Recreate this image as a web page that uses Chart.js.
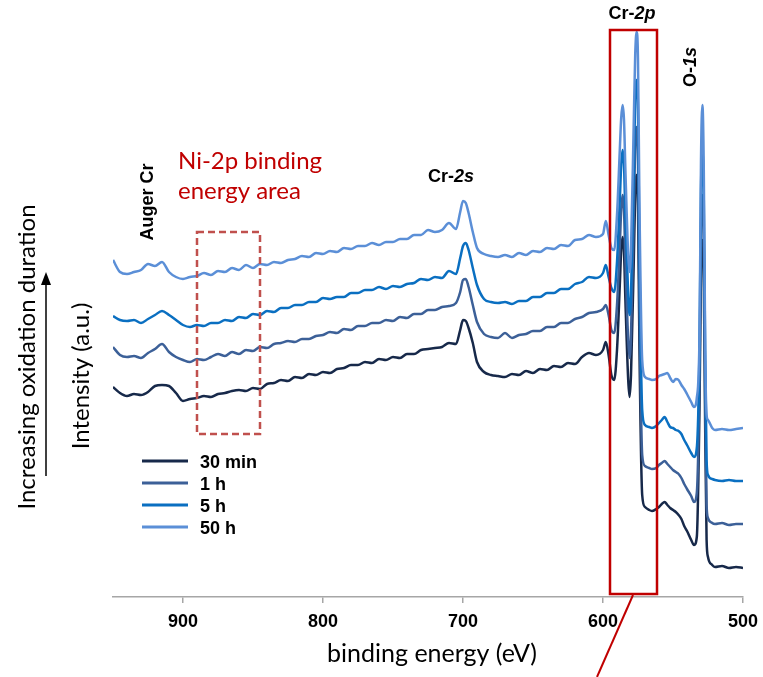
<!DOCTYPE html>
<html>
<head>
<meta charset="utf-8">
<script src="https://cdn.jsdelivr.net/npm/chart.js@4.4.1/dist/chart.umd.min.js"></script>
<style>
  html, body { margin: 0; padding: 0; background: #fff; }
  #wrap { width: 763px; height: 677px; }
</style>
</head>
<body>
<div id="wrap"><canvas id="xps"></canvas></div>
<script>
// binding energy (eV), shared by all spectra
const energy = [
  950, 945, 940, 935, 930, 925, 920, 915, 910, 905,
  900, 895, 890, 885, 880, 875, 870, 865, 860, 855,
  850, 845, 840, 835, 830, 825, 820, 815, 810, 805,
  800, 795, 790, 785, 780, 775, 770, 765, 760, 755,
  750, 745, 740, 735, 730, 725, 720, 715, 710, 705,
  702, 700, 698, 696, 693,
  690, 685, 680, 675, 670, 665, 660, 655, 650, 645, 640, 635, 630, 625, 620, 615, 610, 605, 600,
  598, 596, 594, 592, 590, 588, 587, 586, 585, 584,
  582, 581, 580, 578, 577, 576, 575, 574, 572, 570,
  567, 565, 562, 560, 558, 556, 554, 552, 550, 548,
  546, 544, 542, 540, 537, 535, 533, 531, 530, 529,
  528, 527, 526, 525, 522, 520, 515, 510, 505, 500
];

// intensity (a.u., stacked spectra)
const s30min = [
  210, 204, 201, 203, 202, 205, 211, 212, 211, 204,
  196, 198, 199, 201, 200, 203, 204, 206, 207, 206,
  209, 208, 213, 214, 217, 216, 220, 219, 223, 222,
  225, 224, 228, 229, 232, 232, 235, 234, 238, 237,
  240, 239, 243, 243, 247, 248, 249, 250, 254, 253,
  267, 277, 276, 269, 254,
  235, 225, 222, 221, 220, 223, 222, 226, 224, 228, 227, 231, 230, 234, 233, 240, 244, 242, 247,
  255, 242, 222, 217, 247, 312, 347, 360, 345, 297,
  217, 200, 222, 337, 402, 422, 392, 252, 102, 90,
  87, 86, 88, 90, 93, 95, 92, 89, 87, 85,
  82, 78, 71, 66, 57, 52, 60, 197, 327, 357,
  317, 167, 57, 40, 32, 30, 31, 29, 30, 29
];
const s1h = [
  250, 242, 240, 241, 239, 244, 248, 253, 245, 240,
  237, 235, 238, 237, 240, 243, 241, 245, 243, 247,
  246, 250, 249, 253, 254, 256, 255, 258, 258, 261,
  262, 265, 264, 268, 267, 271, 271, 274, 274, 277,
  276, 280, 279, 283, 283, 287, 287, 290, 291, 294,
  305, 317, 318, 310, 292,
  275, 263, 260, 259, 264, 259, 262, 263, 266, 266, 270, 270, 274, 274, 278, 280, 284, 285, 288,
  292, 282, 267, 264, 292, 352, 387, 402, 387, 337,
  257, 239, 262, 382, 452, 470, 437, 297, 142, 131,
  129, 128, 129, 132, 134, 136, 133, 130, 127, 125,
  123, 119, 113, 108, 101, 95, 104, 227, 367, 402,
  357, 197, 92, 79, 74, 73, 74, 72, 73, 73
];
const s5h = [
  281, 277, 276, 277, 274, 278, 282, 286, 282, 277,
  272, 270, 272, 271, 274, 274, 277, 276, 280, 279,
  283, 282, 286, 285, 289, 289, 292, 292, 295, 295,
  299, 298, 300, 300, 304, 304, 307, 307, 310, 308,
  311, 310, 313, 314, 318, 317, 320, 319, 326, 323,
  339, 351, 354, 347, 329,
  312, 298, 295, 294, 295, 293, 296, 296, 300, 300, 304, 304, 308, 308, 313, 315, 320, 319, 324,
  332, 320, 309, 305, 335, 397, 432, 447, 432, 382,
  302, 282, 302, 427, 497, 517, 487, 347, 187, 172,
  170, 169, 171, 174, 177, 180, 175, 170, 169, 167,
  166, 163, 157, 152, 144, 140, 149, 257, 407, 447,
  397, 237, 137, 122, 118, 117, 116, 117, 116, 116
];
const s50h = [
  337, 325, 323, 325, 327, 333, 331, 335, 325, 320,
  318, 320, 321, 324, 322, 326, 325, 329, 327, 332,
  329, 333, 332, 335, 334, 337, 338, 341, 340, 344,
  343, 346, 345, 349, 348, 351, 351, 354, 352, 355,
  355, 358, 358, 362, 362, 367, 365, 367, 374, 368,
  385, 396, 394, 384, 365,
  349, 343, 341, 340, 342, 340, 344, 342, 346, 345, 349, 348, 352, 351, 357, 358, 362, 360, 363,
  376, 362, 349, 347, 382, 447, 479, 492, 477, 427,
  342, 325, 347, 477, 542, 565, 537, 397, 237, 220,
  218, 217, 218, 221, 222, 223, 224, 219, 215, 218,
  217, 212, 208, 203, 195, 190, 199, 267, 437, 492,
  427, 247, 182, 177, 169, 167, 168, 167, 168, 169
];

const seriesLabels = ['30 min', '1 h', '5 h', '50 h'];
const seriesValues = [s30min, s1h, s5h, s50h];
const seriesColors = ['#17294a', '#3c6098', '#0a6fc1', '#5b8fd7'];
const energyTicks = [900, 800, 700, 600, 500];

const sansFont = 'Liberation Sans, Arial, sans-serif';
const calFont = 'Lato, sans-serif';

// mixed normal / italic label, e.g. "Cr-" + "2s"
function mixedText(ctx, plain, ital, x, y, size, align) {
  ctx.font = 'bold ' + size + 'px ' + sansFont;
  const w1 = ctx.measureText(plain).width;
  ctx.font = 'italic bold ' + size + 'px ' + sansFont;
  const w2 = ctx.measureText(ital).width;
  let x0 = x;
  if (align === 'center') x0 = x - (w1 + w2) / 2;
  ctx.textAlign = 'left';
  ctx.font = 'bold ' + size + 'px ' + sansFont;
  ctx.fillText(plain, x0, y);
  ctx.font = 'italic bold ' + size + 'px ' + sansFont;
  ctx.fillText(ital, x0 + w1, y);
}

const annotations = {
  id: 'annotations',
  afterDraw(chart) {
    const ctx = chart.ctx;
    ctx.save();
    ctx.fillStyle = '#000';
    ctx.textBaseline = 'middle';

    // left labels, rotated
    ctx.save();
    ctx.translate(27, 357);
    ctx.rotate(-Math.PI / 2);
    ctx.font = '24px ' + calFont;
    ctx.textAlign = 'center';
    ctx.fillText('Increasing oxidation duration', 0, 0);
    ctx.restore();

    ctx.save();
    ctx.translate(81, 376);
    ctx.rotate(-Math.PI / 2);
    ctx.font = '24px ' + calFont;
    ctx.textAlign = 'center';
    ctx.fillText('Intensity (a.u.)', 0, 0);
    ctx.restore();

    // arrow
    ctx.strokeStyle = '#000';
    ctx.lineWidth = 1.5;
    ctx.beginPath();
    ctx.moveTo(46, 476);
    ctx.lineTo(46, 282);
    ctx.stroke();
    ctx.beginPath();
    ctx.moveTo(46, 272);
    ctx.lineTo(41, 285);
    ctx.lineTo(51, 285);
    ctx.closePath();
    ctx.fill();

    // peak labels
    ctx.save();
    ctx.translate(148, 202);
    ctx.rotate(-Math.PI / 2);
    ctx.font = 'bold 18px ' + sansFont;
    ctx.textAlign = 'center';
    ctx.fillText('Auger Cr', 0, 0);
    ctx.restore();

    mixedText(ctx, 'Cr-', '2s', 451, 177, 18, 'center');
    mixedText(ctx, 'Cr-', '2p', 632, 14, 18, 'center');

    ctx.save();
    ctx.translate(691, 67);
    ctx.rotate(-Math.PI / 2);
    mixedText(ctx, 'O-', '1s', 0, 0, 18, 'center');
    ctx.restore();

    // Ni-2p area
    ctx.fillStyle = '#c00000';
    ctx.textAlign = 'left';
    ctx.font = '24px ' + calFont;
    ctx.fillText('Ni-2p binding', 178, 161);
    ctx.fillText('energy area', 178, 191);

    ctx.strokeStyle = '#c0504d';
    ctx.lineWidth = 2.5;
    ctx.setLineDash([7, 4]);
    ctx.strokeRect(197, 232, 63, 202);
    ctx.setLineDash([]);

    // Cr-2p box and pointer
    ctx.strokeStyle = '#c00000';
    ctx.lineWidth = 2.5;
    ctx.strokeRect(610, 30, 47, 564);
    ctx.lineWidth = 2;
    ctx.beginPath();
    ctx.moveTo(633, 595);
    ctx.lineTo(597, 677);
    ctx.stroke();

    // legend
    const legY = [461, 483, 505, 527];
    seriesLabels.forEach((lab, i) => {
      ctx.strokeStyle = seriesColors[i];
      ctx.lineWidth = 3;
      ctx.beginPath();
      ctx.moveTo(142, legY[i]);
      ctx.lineTo(188, legY[i]);
      ctx.stroke();
      ctx.fillStyle = '#000';
      ctx.font = 'bold 18px ' + sansFont;
      ctx.textAlign = 'left';
      ctx.fillText(lab, 200, legY[i] + 2);
    });

    // x-axis title
    ctx.fillStyle = '#000';
    ctx.font = '25px ' + calFont;
    ctx.textAlign = 'center';
    ctx.fillText('binding energy (eV)', 432, 654);
    ctx.restore();
  }
};

const ctx = document.getElementById('xps').getContext('2d');
new Chart(ctx, {
  type: 'line',
  data: {
    datasets: seriesLabels.map((lab, i) => ({
      label: lab,
      data: energy.map((e, j) => ({ x: e, y: seriesValues[i][j] })),
      borderColor: seriesColors[i],
      borderWidth: 2.5,
      pointRadius: 0,
      fill: false,
      cubicInterpolationMode: 'monotone',
      order: 4 - i
    }))
  },
  options: {
    responsive: true,
    maintainAspectRatio: false,
    animation: false,
    layout: { padding: { left: 113, right: 20, top: 27, bottom: 0 } },
    plugins: { legend: { display: false }, tooltip: { enabled: false } },
    scales: {
      x: {
        type: 'linear',
        min: 500,
        max: 950,
        reverse: true,
        afterBuildTicks: scale => { scale.ticks = energyTicks.map(v => ({ value: v })); },
        afterFit: scale => {
          scale.height = 80;
          scale.paddingLeft = 0;
          scale.paddingRight = 0;
        },
        ticks: {
          font: { family: sansFont, size: 18, weight: 'bold' },
          color: '#000',
          padding: 8,
          maxRotation: 0,
          autoSkip: false
        },
        grid: { drawOnChartArea: false, drawTicks: true, tickLength: 6, color: '#a6a6a6', lineWidth: 1.5 },
        border: { color: '#a6a6a6', width: 1.5 }
      },
      y: { display: false, min: 0, max: 570 }
    }
  },
  plugins: [annotations]
});
</script>
</body>
</html>
